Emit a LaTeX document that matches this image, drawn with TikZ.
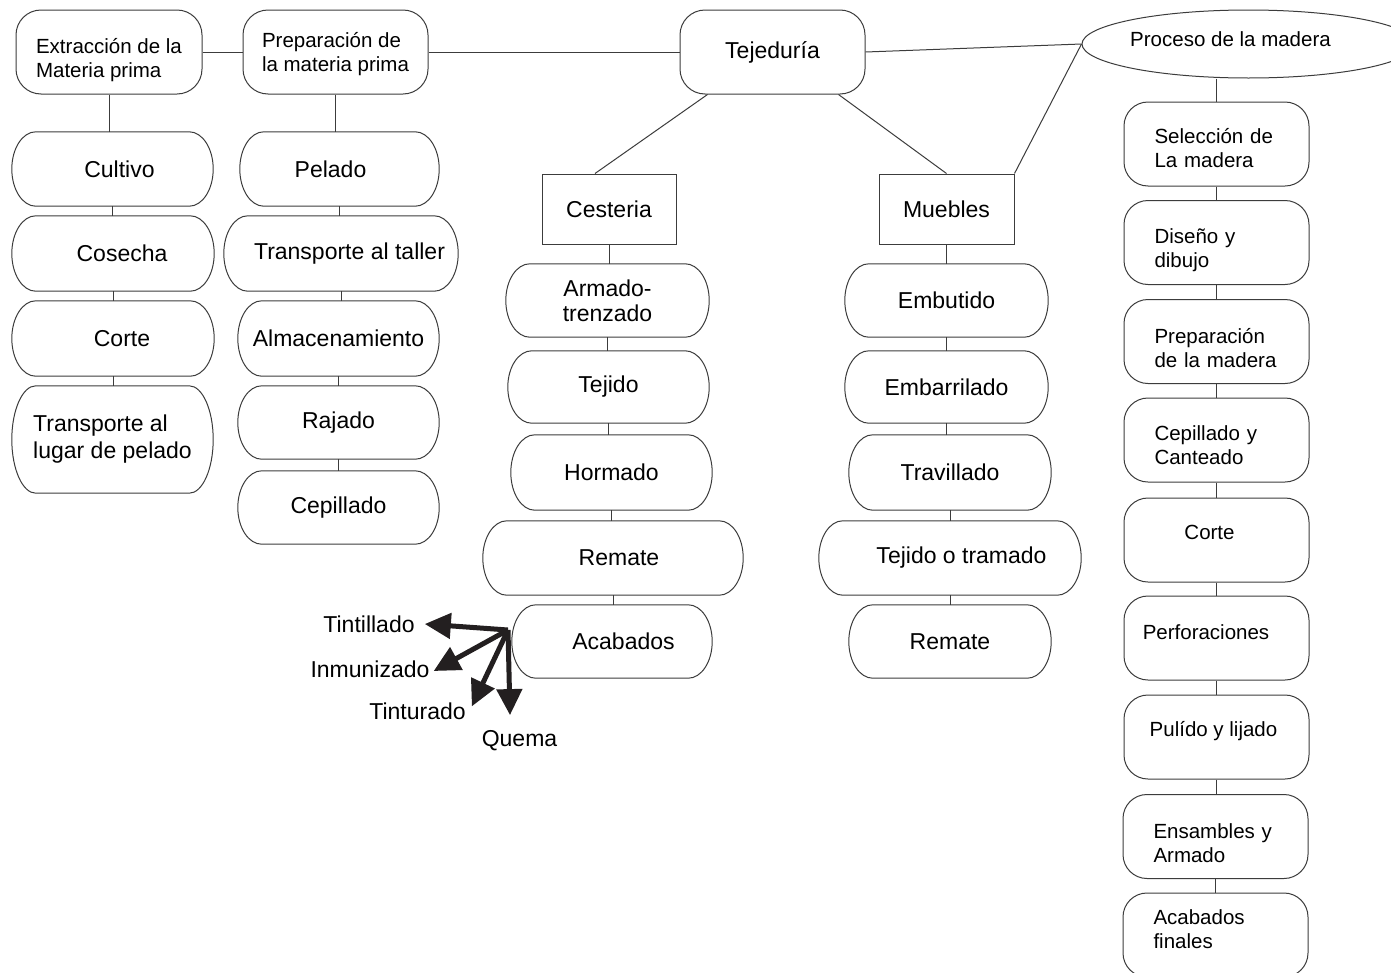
\documentclass[tikz,border=0pt]{standalone}
\usepackage{fontspec}
\setmainfont{Liberation Sans}
\usetikzlibrary{shapes.geometric,arrows.meta,calc}
\newcommand\bigf{\fontsize{23}{26}\selectfont}
\newcommand\smf{\fontsize{20.5}{24}\selectfont}
\newcommand\dn[1]{\rule{0pt}{#1pt}}
\newcommand\upby[1]{\rule[-#1pt]{0pt}{0pt}}
\definecolor{ink}{HTML}{231F20}
\definecolor{edge}{HTML}{3C3C3C}
\newcommand\capsule[1]{%
  \draw[outl] let \p1=(#1.north west), \p2=(#1.south east), \n1={(\y1-\y2)/2} in
   (\x1+24pt,\y1) -- (\x2-24pt,\y1)
   arc[start angle=90,end angle=-90,x radius=24pt,y radius=\n1]
   -- (\x1+24pt,\y2)
   arc[start angle=270,end angle=90,x radius=24pt,y radius=\n1] -- cycle;}
\tikzset{
  outl/.style={draw=edge,line width=1pt},
  ln/.style={draw=edge,line width=1pt},
  wh/.style 2 args={minimum width=#1pt,minimum height=#2pt},
  capn/.style={inner sep=0pt,font=\bigf,align=center},
  rnd/.style={outl,rounded corners=25pt,inner sep=0pt,font=\smf,align=left},
  sq/.style={outl,inner sep=0pt,font=\bigf,minimum width=134pt,minimum height=70pt},
  rbox/.style={outl,rounded corners=24pt,minimum width=185pt,minimum height=84pt,inner sep=0pt,font=\smf},
  rml/.style={rbox,text width=124pt,align=left},
  lab/.style={inner sep=0pt,font=\bigf},
  fat/.style={draw=ink,line width=5pt,-{Triangle[length=26pt,width=25pt]}}
}
\begin{document}
\begin{tikzpicture}[x=1pt,y=1pt]
\path[use as bounding box,fill=white] (0,0) rectangle (1391,-972);

% top row
\node[rnd,wh={186}{84}] (ext) at (109,-52) {\dn{32}Extracción de la\\Materia prima};
\node[rnd,wh={185}{84}] (prep) at (335.5,-52) {\dn{19}Preparación de\\la materia prima};
\node[rnd,wh={185}{84},font=\bigf,align=center] (tej) at (772.5,-52) {Tejeduría};
\node[ellipse,outl,minimum width=333pt,minimum height=68pt,inner sep=0pt,font=\smf] (proc) at (1248.5,-44) {\hspace*{-36pt}\raisebox{10pt}{Proceso de la madera}};

\draw[ln] (ext.east) -- (prep.west);
\draw[ln] (prep.east) -- (tej.west);
\draw[ln] (tej.east) -- (proc.west);

% column 1
\node[capn,wh={201}{74}] (cul) at (112.5,-169) {\hspace*{14pt}Cultivo};
\node[capn,wh={202}{75}] (cos) at (113,-253.5) {\hspace*{18pt}Cosecha};
\node[capn,wh={202}{75}] (cor) at (113,-338.5) {\hspace*{18pt}Corte};
\node[capn,wh={201}{107},align=left,font=\fontsize{23}{27}\selectfont] (trl) at (112.5,-439.5) {Transporte al\\lugar de pelado};
\capsule{cul}\capsule{cos}\capsule{cor}\capsule{trl}
\draw[ln] (ext.south) -- (ext.south |- cul.north);
\draw[ln] (cul.south) -- (cul.south |- cos.north);
\draw[ln] (cos.south) -- (cos.south |- cor.north);
\draw[ln] (cor.south) -- (cor.south |- trl.north);

% column 2
\node[capn,wh={199}{74}] (pel) at (339.5,-169) {\hspace*{-18pt}Pelado};
\node[capn,wh={234}{75}] (tat) at (341,-253.5) {\hspace*{17pt}Transporte al taller};
\node[capn,wh={201}{75}] (alm) at (338.5,-338.5) {Almacenamiento};
\node[capn,wh={201}{73}] (raj) at (338.5,-422.5) {Rajado};
\node[capn,wh={201}{73}] (cep) at (338.5,-507.5) {Cepillado};
\capsule{pel}\capsule{tat}\capsule{alm}\capsule{raj}\capsule{cep}
\draw[ln] (prep.south) -- (prep.south |- pel.north);
\draw[ln] (pel.south) -- (pel.south |- tat.north);
\draw[ln] (tat.south) -- (tat.south |- alm.north);
\draw[ln] (alm.south) -- (alm.south |- raj.north);
\draw[ln] (raj.south) -- (raj.south |- cep.north);

% column 3 (Cesteria)
\node[sq] (ces) at (609,-209) {Cesteria};
\node[capn,wh={203}{73},font=\fontsize{23}{25}\selectfont] (arm) at (607.5,-300.5) {Armado-\\trenzado};
\node[capn,wh={201}{72}] (tjd) at (608.5,-387) {Tejido};
\node[capn,wh={201}{75}] (hor) at (611.5,-472.5) {Hormado};
\node[capn,wh={260}{74}] (rem) at (613,-558) {\hspace*{12pt}Remate};
\node[capn,wh={200}{73}] (aca) at (612,-641.5) {\hspace*{23pt}Acabados};
\capsule{arm}\capsule{tjd}\capsule{hor}\capsule{rem}\capsule{aca}
\draw[ln] (ces.south) -- (ces.south |- arm.north);
\draw[ln] (arm.south) -- (arm.south |- tjd.north);
\draw[ln] (tjd.south) -- (tjd.south |- hor.north);
\draw[ln] (hor.south) -- (hor.south |- rem.north);
\draw[ln] (rem.south) -- (rem.south |- aca.north);

% column 4 (Muebles)
\node[sq,minimum width=135pt] (mue) at (946.5,-209) {Muebles};
\node[capn,wh={203}{73}] (emb) at (946.5,-300.5) {Embutido};
\node[capn,wh={203}{72}] (ebr) at (946.5,-387) {Embarrilado};
\node[capn,wh={202}{75}] (tra) at (950,-472.5) {Travillado};
\node[capn,wh={262}{74}] (tot) at (950,-558) {\hspace*{23pt}Tejido o tramado};
\node[capn,wh={202}{73}] (rm2) at (950,-641.5) {Remate};
\capsule{emb}\capsule{ebr}\capsule{tra}\capsule{tot}\capsule{rm2}
\draw[ln] (mue.south) -- (mue.south |- emb.north);
\draw[ln] (emb.south) -- (emb.south |- ebr.north);
\draw[ln] (ebr.south) -- (ebr.south |- tra.north);
\draw[ln] (tra.south) -- (tra.south |- tot.north);
\draw[ln] (tot.south) -- (tot.south |- rm2.north);

% links from Tejeduria
\draw[ln] ([xshift=28pt]tej.south west) -- ([xshift=-14pt]ces.north);
\draw[ln] ([xshift=-27pt]tej.south east) -- (mue.north);
\draw[ln] (proc.west) -- (mue.north east);

% column 5 (Proceso de la madera)
\node[rml] (sel) at (1216.5,-144) {\dn{24}Selección de\\La madera};
\node[rml] (dis) at (1216.5,-242.5) {\dn{30}Diseño y\\dibujo};
\node[rml] (pma) at (1216.5,-341.5) {\dn{28}Preparación\\de la madera};
\node[rml] (cyc) at (1216.5,-440) {\dn{25}Cepillado y\\Canteado};
\node[rbox] (crt) at (1216.5,-540) {\hspace*{-14pt}\raisebox{16pt}{Corte}};
\node[rbox] (per) at (1216.5,-638) {\hspace*{-21pt}\raisebox{12pt}{Perforaciones}};
\node[rbox] (pul) at (1216.5,-737) {\hspace*{-6pt}\raisebox{16pt}{Pulído y lijado}};
\node[rml] (ens) at (1215.5,-836.5) {\dn{28}Ensambles y\\Armado};
\node[rml] (acf) at (1215.5,-935) {Acabados\\finales\upby{12}};
\draw[ln] (proc.south -| sel.north) -- (sel.north);
\draw[ln] (sel.south) -- (sel.south |- dis.north);
\draw[ln] (dis.south) -- (dis.south |- pma.north);
\draw[ln] (pma.south) -- (pma.south |- cyc.north);
\draw[ln] (cyc.south) -- (cyc.south |- crt.north);
\draw[ln] (crt.south) -- (crt.south |- per.north);
\draw[ln] (per.south) -- (per.south |- pul.north);
\draw[ln] (pul.south) -- (pul.south |- ens.north);
\draw[ln] (ens.south) -- (ens.south |- acf.north);

% finishing arrows
\coordinate (src) at (508,-630);
\node[lab] (tin) at (369,-624) {Tintillado};
\node[lab] (inm) at (370,-669) {Inmunizado};
\node[lab] (tit) at (417.5,-711) {Tinturado};
\node[lab] (que) at (519.5,-741) {Quema};
\draw[fat] (src) -- ([xshift=10pt]tin.east);
\draw[fat] (src) -- ([shift={(4,-2)}]inm.east);
\draw[fat] (src) -- ([shift={(6,-4)}]tit.north east);
\draw[fat] (src) -- ([shift={(-9.5,15.5)}]que.north);
\end{tikzpicture}
\end{document}
